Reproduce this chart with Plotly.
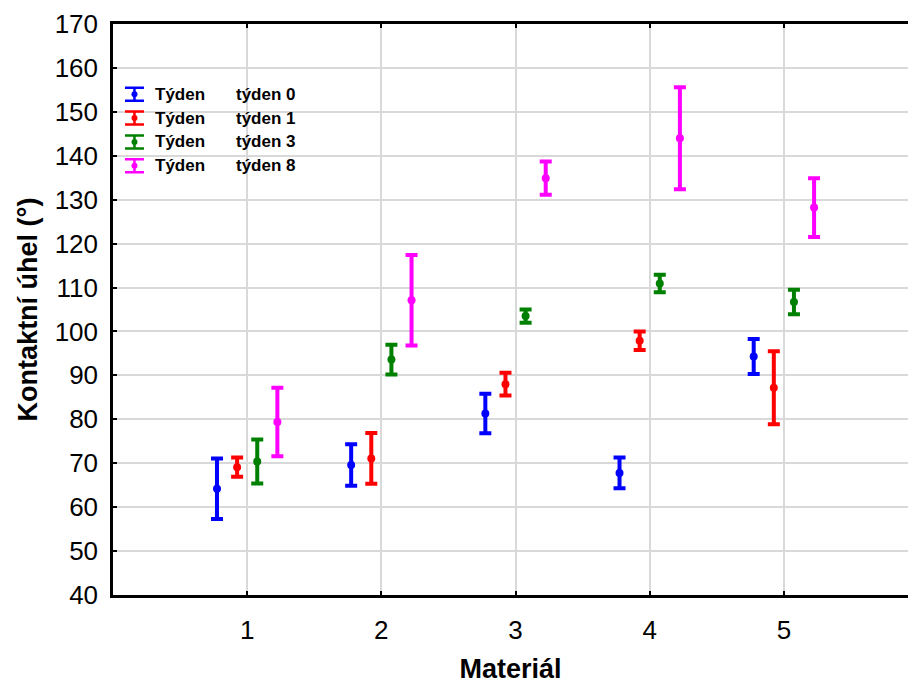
import plotly.graph_objects as go

# Contact angle per material, grouped by week of ageing
materials = [1, 2, 3, 4, 5]
week_labels = ["týden 0", "týden 1", "týden 3", "týden 8"]
series_colors = ["#0000ff", "#ff0000", "#008000", "#ff00ff"]

mean_w0 = [64.2, 69.6, 81.3, 67.8, 94.3]
err_w0 = [6.9, 4.7, 4.5, 3.5, 4.0]

mean_w1 = [69.1, 71.1, 88.0, 97.9, 87.2]
err_w1 = [2.2, 5.8, 2.6, 2.1, 8.3]

mean_w3 = [70.4, 93.6, 103.5, 110.9, 106.7]
err_w3 = [5.0, 3.4, 1.5, 2.0, 2.8]

mean_w8 = [79.4, 107.1, 134.9, 144.0, 128.2]
err_w8 = [7.8, 10.3, 3.8, 11.6, 6.7]

y_ticks = [40, 50, 60, 70, 80, 90, 100, 110, 120, 130, 140, 150, 160, 170]

means = [mean_w0, mean_w1, mean_w3, mean_w8]
errs = [err_w0, err_w1, err_w3, err_w8]

FONT = "Arial, Liberation Sans, sans-serif"
dodge = [-0.225, -0.075, 0.075, 0.225]

fig = go.Figure()

for k in range(4):
    xs = [m + dodge[k] for m in materials]
    fig.add_trace(go.Scatter(
        x=xs, y=means[k], mode="markers", name=week_labels[k],
        marker=dict(color=series_colors[k], size=8),
        error_y=dict(type="data", array=errs[k], visible=True,
                     color=series_colors[k], thickness=4, width=6),
        showlegend=False,
    ))

# Legend keys drawn on an overlay axis in plot-fraction units
leg_x = 0.027
leg_y0 = 0.877
leg_dy = 0.0418
leg_rows = [leg_y0 - i * leg_dy for i in range(4)]
for k in range(4):
    fig.add_trace(go.Scatter(
        x=[leg_x], y=[leg_rows[k]], xaxis="x2", yaxis="y2", mode="markers",
        marker=dict(color=series_colors[k], size=6),
        error_y=dict(type="constant", value=0.0114, visible=True,
                     color=series_colors[k], thickness=2.5, width=9.5),
        showlegend=False, hoverinfo="skip",
    ))
    fig.add_annotation(x=0.05, y=leg_rows[k], xref="x2", yref="y2",
                       text="<b>Týden</b>", showarrow=False, xanchor="left",
                       yanchor="middle", font=dict(family=FONT, size=17, color="black"))
    fig.add_annotation(x=0.1526, y=leg_rows[k], xref="x2", yref="y2",
                       text="<b>" + week_labels[k] + "</b>", showarrow=False,
                       xanchor="left", yanchor="middle",
                       font=dict(family=FONT, size=17, color="black"))

fig.update_layout(
    width=908, height=684,
    margin=dict(l=113, r=0, t=24, b=89),
    paper_bgcolor="white", plot_bgcolor="white",
    font=dict(family=FONT, color="black"),
    xaxis=dict(
        range=[0, 5.925], tickmode="array", tickvals=materials,
        ticktext=[str(m) for m in materials],
        showgrid=True, gridcolor="#d9d9d9", gridwidth=1.5,
        showline=True, linecolor="black", linewidth=2.5, mirror="ticks",
        ticks="inside", ticklen=4, tickwidth=2, tickcolor="black",
        tickfont=dict(size=26, family=FONT), ticklabelstandoff=10,
        zeroline=False,
        title=dict(text="<b>Materiál</b>", font=dict(size=27, family=FONT), standoff=20),
    ),
    yaxis=dict(
        range=[40, 170], tickmode="array", tickvals=y_ticks,
        showgrid=True, gridcolor="#d9d9d9", gridwidth=1.5,
        showline=True, linecolor="black", linewidth=2.5, mirror=False,
        ticks="inside", ticklen=4, tickwidth=2, tickcolor="black",
        tickfont=dict(size=26, family=FONT), ticklabelstandoff=7,
        zeroline=False,
        title=dict(text="<b>Kontaktní úhel (°)</b>", font=dict(size=27, family=FONT), standoff=10),
    ),
    xaxis2=dict(overlaying="x", range=[0, 1], visible=False, fixedrange=True),
    yaxis2=dict(overlaying="y", range=[0, 1], visible=False, fixedrange=True),
)

fig.write_html("out.html")
